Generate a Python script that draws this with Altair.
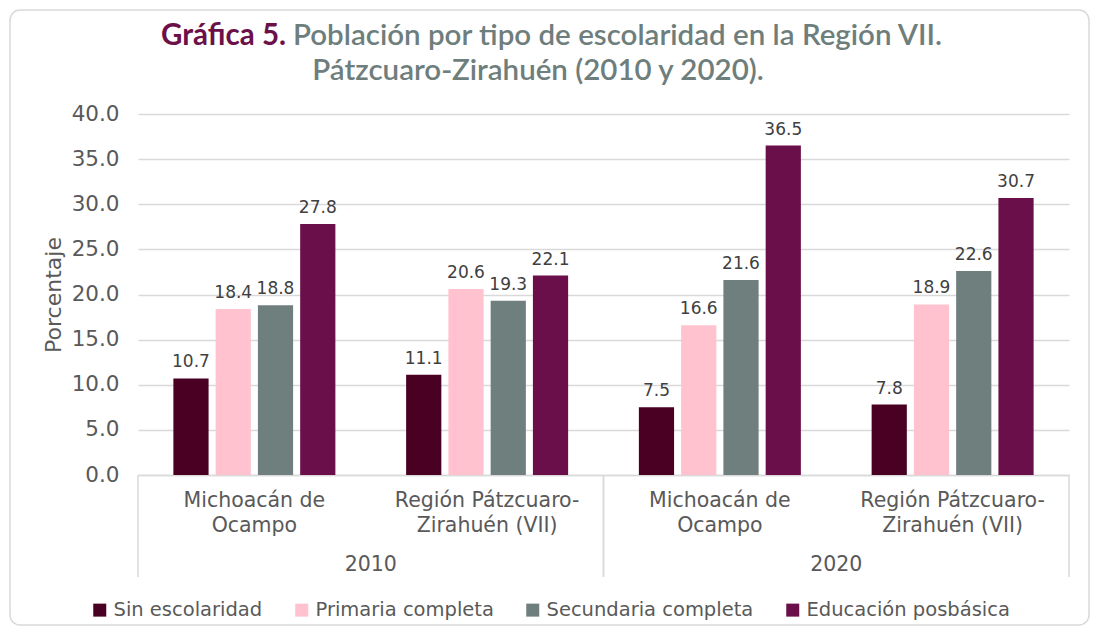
import altair as alt
import pandas as pd

# ---- data ----
anios = ["2010", "2010", "2020", "2020"]
regiones = ["Michoacán de~Ocampo", "Región Pátzcuaro-~Zirahuén (VII)",
            "Michoacán de~Ocampo", "Región Pátzcuaro-~Zirahuén (VII)"]
series = ["Sin escolaridad", "Primaria completa", "Secundaria completa", "Educación posbásica"]
sin_escolaridad = [10.7, 11.1, 7.5, 7.8]
primaria = [18.4, 20.6, 16.6, 18.9]
secundaria = [18.8, 19.3, 21.6, 22.6]
posbasica = [27.8, 22.1, 36.5, 30.7]
colores = ["#4a0023", "#ffc2ce", "#6f7f7e", "#6a0f49"]
y_ticks = [0, 5, 10, 15, 20, 25, 30, 35, 40]
titulo_a = ["Gráfica 5."]
titulo_b = ["Población por tipo de escolaridad en la Región VII."]
titulo_c = ["Pátzcuaro-Zirahuén (2010 y 2020)."]
anios_unicos = ["2010", "2020"]

FONT = "DejaVu Sans"
GRAY = "#595959"
GRID = "#d9d9d9"
W, H = 931, 361

rows = []
valores = [sin_escolaridad, primaria, secundaria, posbasica]
for i, (a, r) in enumerate(zip(anios, regiones)):
    for s, vals in zip(series, valores):
        rows.append({"grupo": f"{a}|{r}", "anio": a, "serie": s, "valor": vals[i]})
df = pd.DataFrame(rows)
orden = [f"{a}|{r}" for a, r in zip(anios, regiones)]

x_enc = alt.X(
    "grupo:N", sort=orden,
    scale=alt.Scale(domain=orden, paddingInner=0.304, paddingOuter=0.152),
    axis=alt.Axis(title=None, labelExpr="split(split(datum.label, '|')[1], '~')",
                  labelAngle=0, ticks=False, domainColor=GRID, domainWidth=1.5,
                  labelFont=FONT, labelFontSize=20.5, labelColor=GRAY, labelPadding=15,
                  labelLineHeight=25, labelLimit=400, grid=False),
)
xoff = alt.XOffset("serie:N", sort=series,
                   scale=alt.Scale(domain=series, paddingInner=0.167, paddingOuter=0))
y_enc = alt.Y(
    "valor:Q", scale=alt.Scale(domain=[0, 40], nice=False),
    axis=alt.Axis(values=y_ticks, format=".1f", title="Porcentaje", domain=False,
                  ticks=False, tickSize=0, labelPadding=19, labelFont=FONT,
                  labelFontSize=21.5, labelColor=GRAY, titleFont=FONT, titleFontSize=22,
                  titleColor=GRAY, titleFontWeight="normal", titlePadding=6,
                  gridColor=GRID, gridWidth=1.5),
)

bars = alt.Chart(df).mark_bar().encode(
    x=x_enc, xOffset=xoff, y=y_enc,
    color=alt.Color("serie:N", sort=series,
                    scale=alt.Scale(domain=series, range=colores),
                    legend=alt.Legend(orient="none", legendX=-48, legendY=486,
                                      direction="horizontal", columns=4, title=None,
                                      symbolType="square", symbolSize=169,
                                      symbolStrokeWidth=0, labelFont=FONT,
                                      labelFontSize=19.5, labelColor=GRAY, labelLimit=0,
                                      labelOffset=4, columnPadding=29)),
)
labels = alt.Chart(df).mark_text(baseline="bottom", dy=-7, font=FONT, fontSize=17,
                                 color="#404040").encode(
    x=x_enc, xOffset=xoff, y=y_enc, text=alt.Text("valor:Q", format=".1f"))

df_anios = pd.DataFrame({"anio": anios_unicos})
x_anio = dict(scale=alt.Scale(domain=anios_unicos, paddingInner=0, paddingOuter=0), axis=None)
anio_text = alt.Chart(df_anios).mark_text(baseline="alphabetic", font=FONT, fontSize=20.5,
                                          color=GRAY).encode(
    x=alt.X("anio:N", **x_anio), y=alt.value(H + 96), text="anio:N")
sep_left = alt.Chart(df_anios).mark_rule(color=GRID, strokeWidth=1.5).encode(
    x=alt.X("anio:N", bandPosition=0, **x_anio), y=alt.value(H), y2=alt.value(H + 102))
sep_right = alt.Chart(df_anios).mark_rule(color=GRID, strokeWidth=1.5).encode(
    x=alt.X("anio:N", bandPosition=1, **x_anio), y=alt.value(H), y2=alt.value(H + 102))

border = alt.Chart(pd.DataFrame({"k": [0]})).mark_rect(
    fillOpacity=0, stroke=GRID, strokeWidth=1.5, cornerRadius=10).encode(
    x=alt.value(-128), x2=alt.value(W + 20), y=alt.value(-104), y2=alt.value(H + 150))

t_a = alt.Chart(pd.DataFrame({"t": titulo_a})).mark_text(
    align="right", baseline="alphabetic", font="Lato", fontSize=29.5, fontWeight="bold",
    color="#6b1048").encode(x=alt.value(148), y=alt.value(-69), text="t:N")
t_b = alt.Chart(pd.DataFrame({"t": titulo_b})).mark_text(
    align="left", baseline="alphabetic", font="Lato", fontSize=29.5, fontWeight=600,
    color="#6e7e7c").encode(x=alt.value(155), y=alt.value(-69), text="t:N")
t_c = alt.Chart(pd.DataFrame({"t": titulo_c})).mark_text(
    align="center", baseline="alphabetic", font="Lato", fontSize=29.5, fontWeight=600,
    color="#6e7e7c").encode(x=alt.value(400), y=alt.value(-34), text="t:N")

chart = alt.layer(
    border, t_a, t_b, t_c,
    alt.layer(bars, labels),
    anio_text, sep_left, sep_right,
).resolve_scale(x="independent").properties(
    width=W, height=H,
    autosize=alt.AutoSizeParams(type="none"),
    padding={"left": 130, "top": 106, "right": 22, "bottom": 153},
    background="white",
).configure_view(stroke=None)

chart.save("out.html", embed_options={"renderer": "svg", "actions": False})
